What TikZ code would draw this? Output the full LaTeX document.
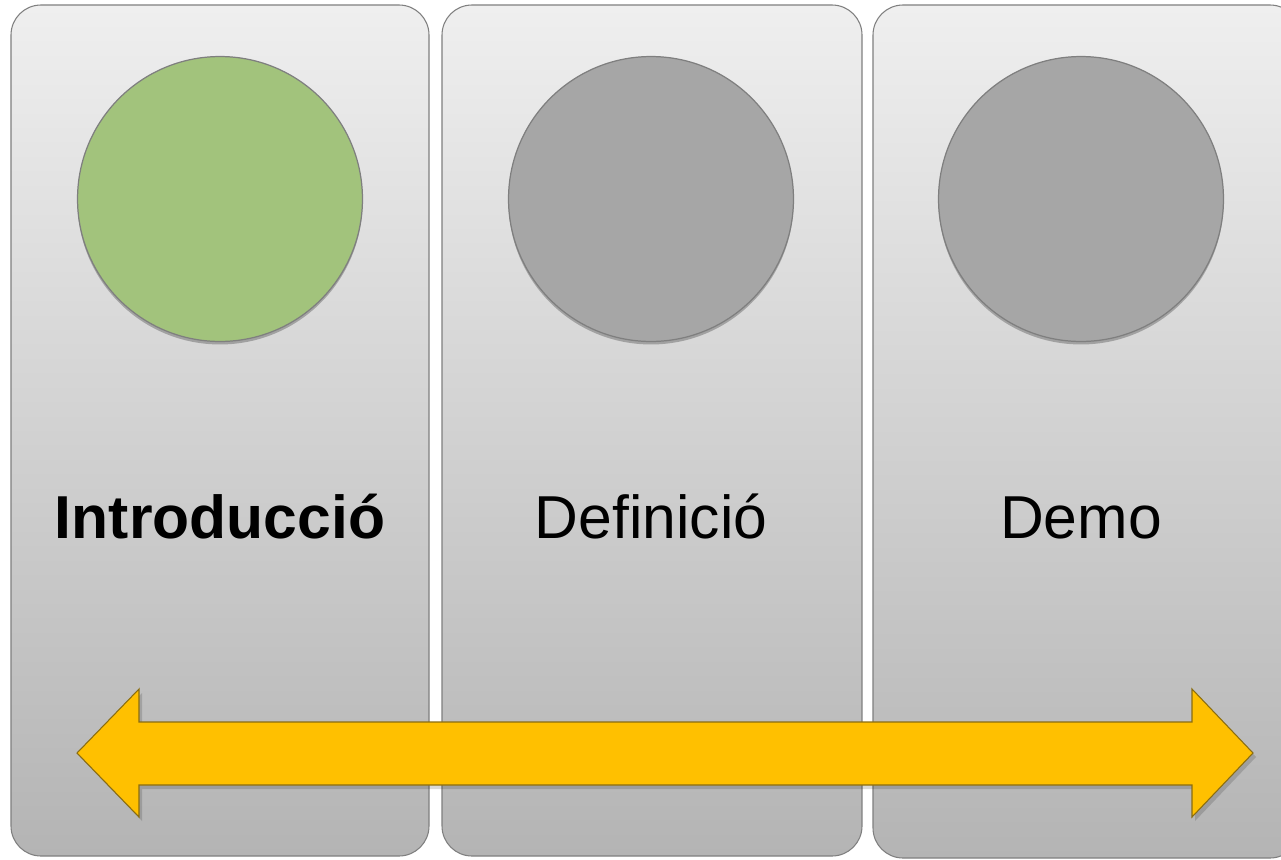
\documentclass[tikz,border=0pt]{standalone}
\usepackage{fontspec}
\setmainfont{Liberation Sans}
\usetikzlibrary{shadows}
\definecolor{edge}{HTML}{7F7F7F}
\definecolor{green1}{HTML}{A2C37C}
\definecolor{gray1}{HTML}{A6A6A6}
\definecolor{gold}{HTML}{FFC000}
\definecolor{golde}{HTML}{8A6D10}
\definecolor{ptop}{HTML}{EFEFEF}
\definecolor{pbot}{HTML}{B4B4B4}
\begin{document}
\begin{tikzpicture}[x=0.02cm,y=-0.02cm,
  panel/.style={draw=edge,line width=0.6pt,rounded corners=0.6cm,top color=ptop,bottom color=pbot},
  disc/.style={circle,draw=edge,line width=0.7pt,minimum size=5.7cm,inner sep=0pt,
     drop shadow={shadow xshift=0pt,shadow yshift=-0.06cm,opacity=0.25,fill=black}},
  lbl/.style={anchor=base,font=\fontsize{34.5}{40}\selectfont,text=black}]
\useasboundingbox (0,0) rectangle (1281,859);
\clip (0,0) rectangle (1281,859);
\fill[white] (0,0) rectangle (1281,859);
\shade[panel] (11,5) rectangle (429,856);
\shade[panel] (442,5) rectangle (862,856);
\shade[panel] (873,5) rectangle (1300,858);
\node[disc,fill=green1] (c1) at (220,199) {};
\node[disc,fill=gray1] (c2) at (651,199) {};
\node[disc,fill=gray1] (c3) at (1081,199) {};
\node[lbl,font=\fontsize{34.5}{40}\selectfont\bfseries] (t1) at (220,538) {Introducció};
\node[lbl] (t2) at (651,538) {Definició};
\node[lbl] (t3) at (1081,538) {Demo};
\fill[black,opacity=0.15] (80,757) -- (142,693) -- (142,726) -- (1195,726) -- (1195,693) -- (1256,757) -- (1195,821) -- (1195,789) -- (142,789) -- (142,821) -- cycle;
\draw[fill=gold,draw=golde,line width=0.6pt,line join=miter]
  (77,753) -- (139,689) -- (139,722) -- (1192,722) -- (1192,689) -- (1253,753) -- (1192,817) -- (1192,785) -- (139,785) -- (139,817) -- cycle;
\end{tikzpicture}
\end{document}
